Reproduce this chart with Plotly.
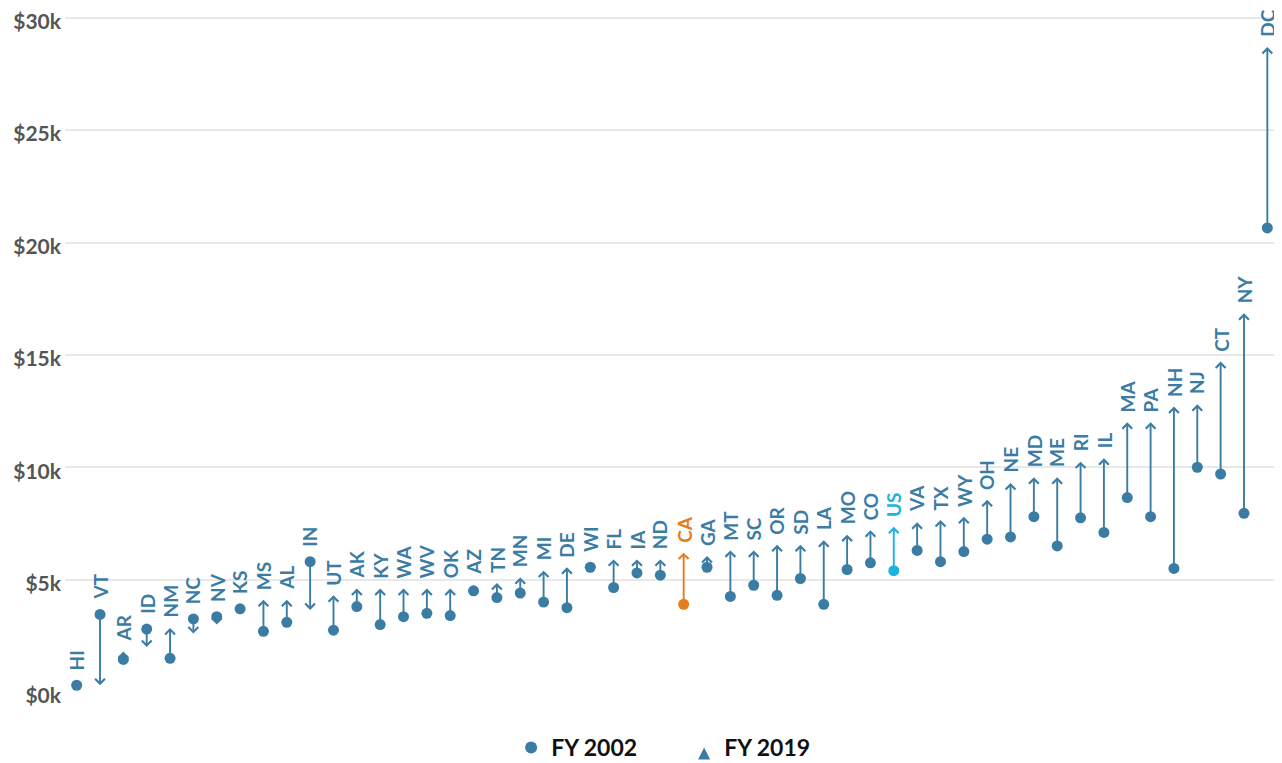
import plotly.graph_objects as go

states = ["HI", "VT", "AR", "ID", "NM", "NC", "NV", "KS", "MS", "AL", "IN", "UT", "AK",
          "KY", "WA", "WV", "OK", "AZ", "TN", "MN", "MI", "DE", "WI", "FL", "IA", "ND",
          "CA", "GA", "MT", "SC", "OR", "SD", "LA", "MO", "CO", "US", "VA", "TX", "WY",
          "OH", "NE", "MD", "ME", "RI", "IL", "MA", "PA", "NH", "NJ", "CT", "NY", "DC"]

fy2002 = [0.3, 3.45, 1.45, 2.8, 1.5, 3.25, 3.35, 3.7, 2.7, 3.1, 5.8, 2.75, 3.8,
          3.0, 3.35, 3.5, 3.4, 4.5, 4.2, 4.4, 4.0, 3.75, 5.55, 4.65, 5.3, 5.2,
          3.9, 5.55, 4.25, 4.75, 4.3, 5.05, 3.9, 5.45, 5.75, 5.4, 6.3, 5.8, 6.25,
          6.8, 6.9, 7.8, 6.5, 7.75, 7.1, 8.65, 7.8, 5.5, 10.0, 9.7, 7.95, 20.65]

fy2019 = [0.5, 0.3, 1.8, 2.0, 2.85, 2.6, 3.0, 3.9, 4.1, 4.1, 3.65, 4.3, 4.6,
          4.6, 4.6, 4.6, 4.6, 4.75, 4.85, 5.1, 5.4, 5.55, 5.8, 5.9, 5.9, 5.9,
          6.2, 6.05, 6.3, 6.3, 6.55, 6.55, 6.75, 7.0, 7.2, 7.35, 7.55, 7.65, 7.8,
          8.55, 9.3, 9.55, 9.55, 10.25, 10.4, 12.0, 12.0, 12.7, 12.8, 14.7, 16.85, 28.7]

y_ticks = [0, 5, 10, 15, 20, 25, 30]
y_tick_labels = ["$0k", "$5k", "$10k", "$15k", "$20k", "$25k", "$30k"]

BLUE = "#3b7ca4"
ORANGE = "#e57d20"
CYAN = "#1db3df"
special = {"CA": ORANGE, "US": CYAN}
colors = [special.get(s, BLUE) for s in states]
xs = list(range(len(states)))

fig = go.Figure()

annotations = []
for i, s in enumerate(states):
    a, b = fy2002[i], fy2019[i]
    annotations.append(dict(
        x=xs[i], y=b, ax=xs[i], ay=a, xref="x", yref="y", axref="x", ayref="y",
        text="", showarrow=True, arrowhead=4, arrowsize=1.0, arrowwidth=1.9,
        arrowcolor=colors[i], standoff=0, startstandoff=0,
    ))
    rising = b > a
    annotations.append(dict(
        x=xs[i], y=max(a, b), xref="x", yref="y", text=s, showarrow=False,
        textangle=-90, yanchor="bottom", xanchor="center",
        yshift=8 if rising else 13,
        font=dict(family="Lato", size=19, color=colors[i], weight="bold"),
    ))

fig.add_trace(go.Scatter(
    x=xs, y=fy2002, mode="markers", name="FY 2002",
    marker=dict(color=colors, size=11, line=dict(width=0)),
    hovertext=states, hoverinfo="text+y",
))
fig.add_trace(go.Scatter(
    x=[None], y=[None], mode="markers", name="FY 2019",
    marker=dict(color=BLUE, symbol="arrow-up", size=8),
))

fig.update_layout(
    width=1274, height=755,
    margin=dict(l=57, r=3, t=3, b=71, autoexpand=False),
    paper_bgcolor="white", plot_bgcolor="white",
    font=dict(family="Lato"),
    showlegend=True,
    legend=dict(orientation="h", x=0.51, xanchor="center", y=-0.05, yanchor="top",
                font=dict(family="Lato", size=23, color="#111111", weight="bold"),
                itemsizing="constant", traceorder="normal", itemwidth=30,
                entrywidth=128),
    annotations=annotations,
)
fig.update_xaxes(range=[-0.5, len(states) - 0.5], showgrid=False, showticklabels=False,
                 zeroline=False, showline=False, ticks="", automargin=False)
fig.update_yaxes(range=[0, 30.3], tickvals=y_ticks, ticktext=y_tick_labels,
                 showgrid=True, gridcolor="#e8e8e8", gridwidth=1.5, zeroline=False,
                 showline=False, ticks="", ticklabelstandoff=3, ticklabelshift=4,
                 automargin=False, ticklabeloverflow="allow",
                 tickfont=dict(family="Lato", size=21, color="#555555", weight="bold"))

fig.write_html("out.html")
